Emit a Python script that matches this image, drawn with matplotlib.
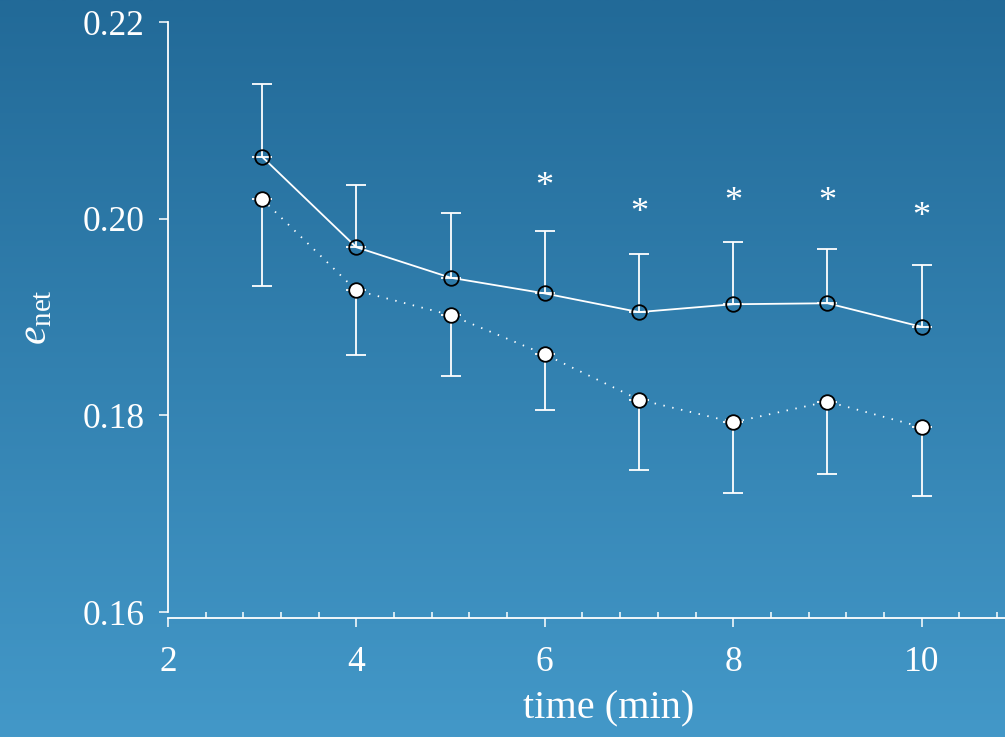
import matplotlib.pyplot as plt
import numpy as np
from matplotlib.colors import LinearSegmentedColormap
from matplotlib.ticker import MultipleLocator

# data
times = [3, 4, 5, 6, 7, 8, 9, 10]
solidMean = [0.2063, 0.1971, 0.1940, 0.1924, 0.1905, 0.1913, 0.1914, 0.1890]
solidUpper = [0.2137, 0.2034, 0.2006, 0.1987, 0.1964, 0.1976, 0.1969, 0.1953]
dottedMean = [0.2020, 0.1927, 0.1902, 0.1862, 0.1816, 0.1793, 0.1814, 0.1788]
dottedLower = [0.1932, 0.1861, 0.1840, 0.1805, 0.1744, 0.1721, 0.1740, 0.1718]
starTimes = [6, 7, 8, 9, 10]
starLevels = [0.2032, 0.2005, 0.2016, 0.2016, 0.2001]
xTicks = [2, 4, 6, 8, 10]
yTicks = [0.16, 0.18, 0.20, 0.22]

plt.rcParams["font.family"] = ["Liberation Serif", "DejaVu Serif"]
plt.rcParams["mathtext.fontset"] = "custom"
plt.rcParams["mathtext.rm"] = "Liberation Serif"
plt.rcParams["mathtext.it"] = "Liberation Serif:italic"

fig = plt.figure(figsize=(10.05, 7.37), dpi=100)

# vertical gradient background
bg = fig.add_axes([0, 0, 1, 1], zorder=-10)
cmap = LinearSegmentedColormap.from_list("bg", ["#226a98", "#4398c8"])
bg.imshow(np.linspace(0, 1, 256).reshape(-1, 1), aspect="auto", cmap=cmap, extent=[0, 1, 0, 1])
bg.axis("off")

ax = fig.add_axes([0.167, 0.1696, 0.8776, 0.8005])
ax.patch.set_alpha(0)

white = "white"
upErr = np.array(solidUpper) - np.array(solidMean)
lowErr = np.array(dottedMean) - np.array(dottedLower)

ax.errorbar(times, solidMean, yerr=[np.zeros(len(times)), upErr], fmt="none",
            ecolor=white, elinewidth=1.3, capsize=7, capthick=1.3, zorder=2)
ax.errorbar(times, dottedMean, yerr=[lowErr, np.zeros(len(times))], fmt="none",
            ecolor=white, elinewidth=1.3, capsize=7, capthick=1.3, zorder=2)

ax.plot(times, solidMean, color=white, lw=1.3, zorder=3)
ax.plot(times, dottedMean, color=white, lw=1.3, linestyle=(0, (0.8, 4.2)), zorder=3)
ax.plot(times, solidMean, "o", ms=10.5, mfc="none", mec="black", mew=1.3, zorder=4)
ax.plot(times, dottedMean, "o", ms=10.5, mfc=white, mec="black", mew=1.3, zorder=4)

for t, lev in zip(starTimes, starLevels):
    ax.text(t, lev, "*", color=white, fontsize=26, ha="center", va="center")

ax.set_xlim(2, 11.36)
ax.set_ylim(0.16, 0.22)
ax.set_xticks(xTicks)
ax.set_yticks(yTicks)
ax.set_yticklabels(["%.2f" % v for v in yTicks])
ax.xaxis.set_minor_locator(MultipleLocator(0.4))

for side in ["top", "right"]:
    ax.spines[side].set_visible(False)
ax.spines["left"].set_color(white)
ax.spines["bottom"].set_color(white)
ax.spines["left"].set_linewidth(1.3)
ax.spines["bottom"].set_linewidth(1.3)
ax.spines["bottom"].set_position(("outward", 4))

ax.tick_params(axis="both", which="major", colors=white, direction="out",
               length=6.5, width=1.1, labelsize=25.5)
ax.tick_params(axis="x", which="major", pad=14)
ax.tick_params(axis="y", which="major", pad=10)
ax.tick_params(axis="x", which="minor", colors=white, direction="in", length=4, width=1.1)

ax.set_xlabel("time (min)", color=white, fontsize=29, labelpad=8)
ax.set_ylabel(r"$e_{\mathrm{net}}$", color=white, fontsize=30)
ax.yaxis.set_label_coords(-0.128, 0.5)

fig.savefig("out.png", dpi=100)
